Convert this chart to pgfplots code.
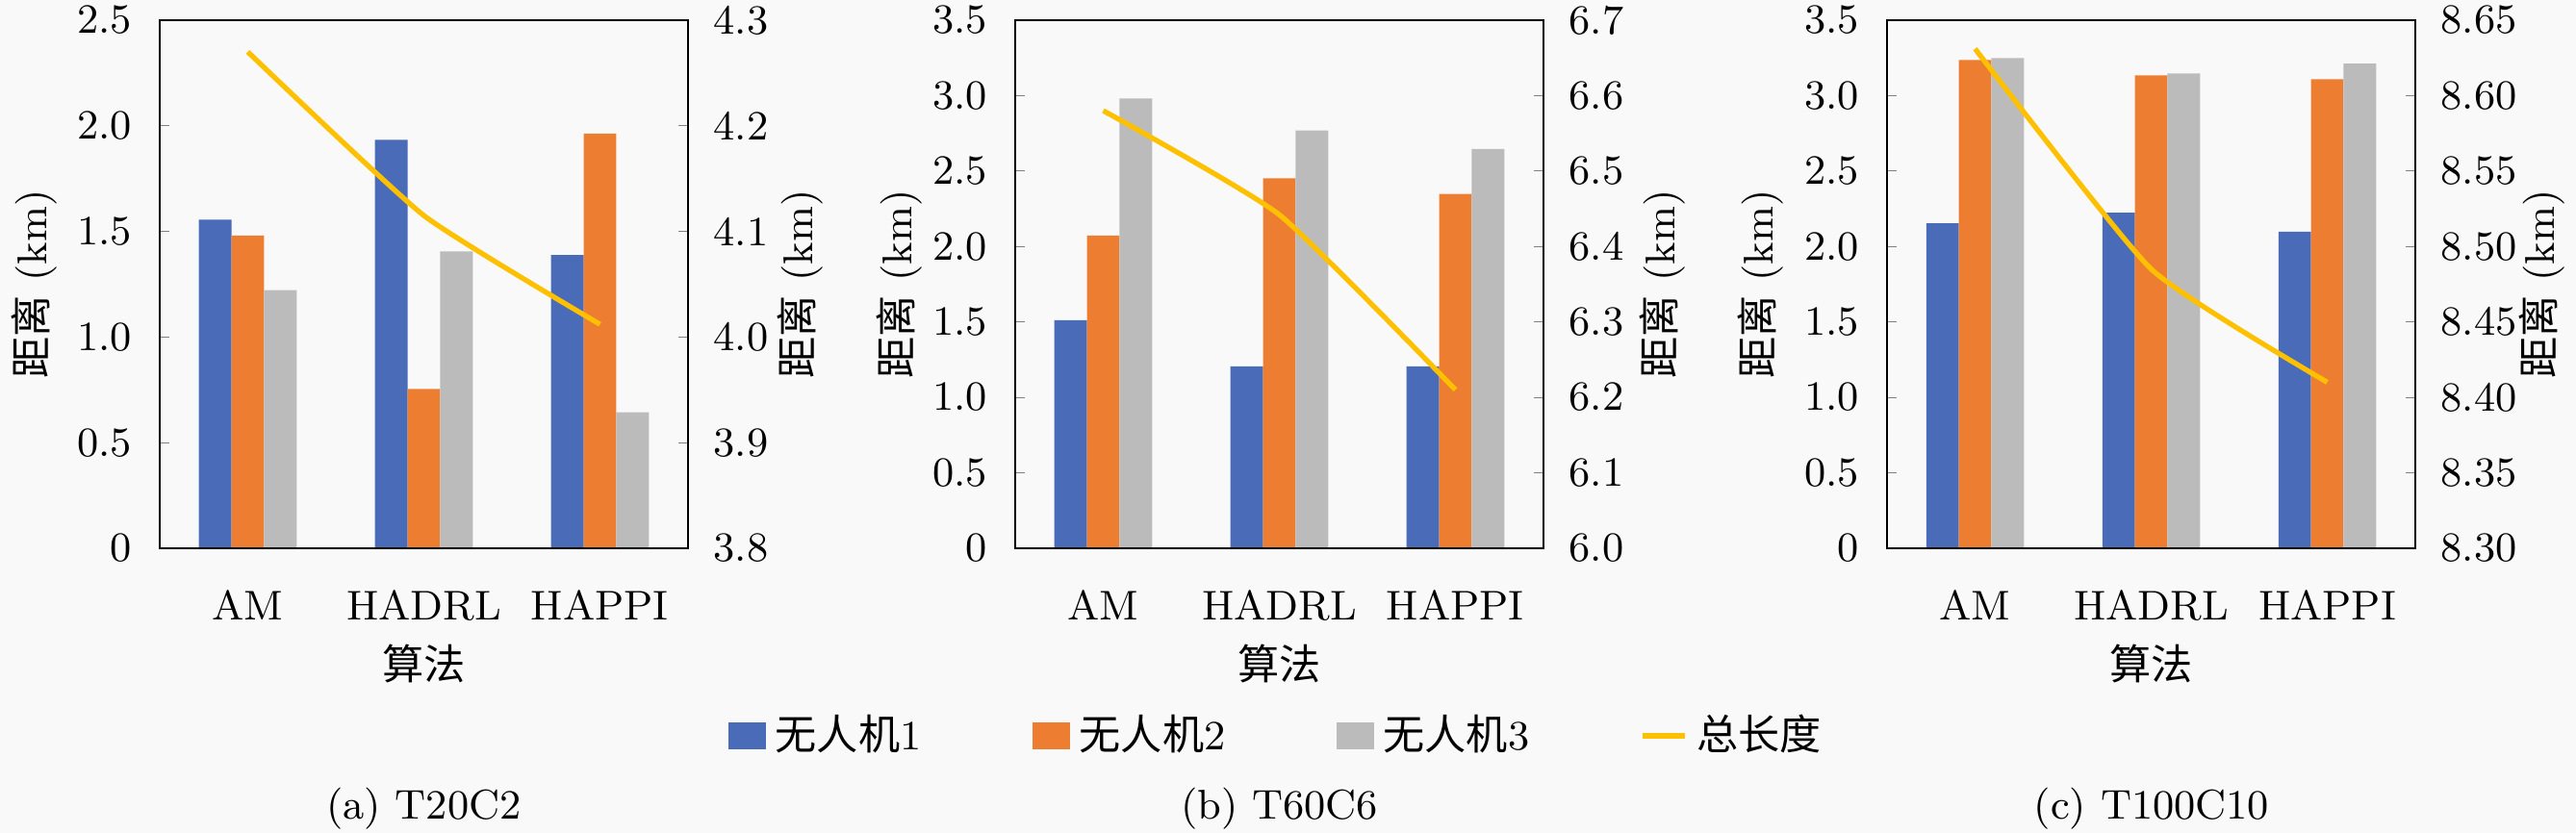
\documentclass[border=0pt]{standalone}
\usepackage{fontspec}
\usepackage{pgfplots}
\pgfplotsset{compat=1.18}
\newfontfamily\cjk{Noto Sans CJK SC}
\definecolor{c1}{RGB}{74,107,184}
\definecolor{c2}{RGB}{237,125,49}
\definecolor{c3}{RGB}{187,187,187}
\definecolor{c4}{RGB}{255,192,0}
\definecolor{bg}{RGB}{249,249,249}
\newcommand\fs{\fontsize{9}{11}\selectfont}
\pgfplotsset{
  common/.style={
    scale only axis, width=114.375pt, height=114.375pt, anchor=south west,
    xmin=-0.5, xmax=2.5,
    major tick length=2pt,
    tick label style={font=\fs},
    label style={font=\fs},
    ylabel={{\cjk 距离} (km)},
  },
  barax/.style={
    common,
    xtick={0,1,2}, xticklabels={AM,HADRL,HAPPI},
    major x tick style={draw=none},
    xticklabel style={anchor=base, yshift=-13.5pt},
    ybar=0pt, bar width=0.185,
    ymin=0, ytick pos=left,
    yticklabel style={xshift=-2.5pt},
    xlabel={\cjk 算法},
    xlabel style={at={(axis description cs:0.5,-0.2186)}, anchor=center},
    legend image code/.code={\fill[##1] (0pt,-3pt) rectangle (8.2pt,2.9pt);},
  },
  lineax/.style={
    common,
    xtick=\empty,
    ytick pos=right, yticklabel pos=right,
    yticklabel style={xshift=2pt},
  },
  linelegend/.style={legend image code/.code={\draw[##1] (0pt,0pt) -- (9pt,0pt);}},
}
\begin{document}
\begin{tikzpicture}
\path[use as bounding box, fill=bg] (0,0) rectangle (557.7pt,180.4pt);

% ---------- Panel (a) ----------
\begin{axis}[barax, at={(34.58pt,61.67pt)},
  ymax=2.5, ytick={0,0.5,1,1.5,2,2.5}, yticklabels={0,0.5,1.0,1.5,2.0,2.5},
  ylabel style={at={(axis description cs:-0.237,0.5)}, anchor=center}]
\addplot[fill=c1, draw=none] coordinates {(0,1.555) (1,1.933) (2,1.388)};
\addplot[fill=c2, draw=none] coordinates {(0,1.480) (1,0.754) (2,1.963)};
\addplot[fill=c3, draw=none] coordinates {(0,1.222) (1,1.405) (2,0.644)};
\end{axis}
\begin{axis}[lineax, at={(34.58pt,61.67pt)},
  ymin=3.8, ymax=4.3, ytick={3.8,3.9,4.0,4.1,4.2,4.3}, yticklabels={3.8,3.9,4.0,4.1,4.2,4.3},
  ylabel style={at={(axis description cs:1.213,0.5)}, anchor=center}]
\addplot[c4, line width=1.1pt, smooth, tension=0.3] coordinates {(0,4.270) (1,4.115) (2,4.012)};
\end{axis}

% ---------- Panel (b) ----------
\begin{axis}[barax, at={(219.79pt,61.67pt)},
  ymax=3.5, ytick={0,0.5,1,1.5,2,2.5,3,3.5}, yticklabels={0,0.5,1.0,1.5,2.0,2.5,3.0,3.5},
  ylabel style={at={(axis description cs:-0.22,0.5)}, anchor=center},
  legend style={at={(0.5,-0.355)}, anchor=center, draw=none, fill=none,
    legend columns=4, font=\fs,
    /tikz/every even column/.append style={column sep=22pt}},
  legend cell align=left]
\addplot[fill=c1, draw=none] coordinates {(0,1.511) (1,1.206) (2,1.206)};
\addlegendentry{{\cjk 无人机}1}
\addplot[fill=c2, draw=none] coordinates {(0,2.073) (1,2.451) (2,2.348)};
\addlegendentry{{\cjk 无人机}2}
\addplot[fill=c3, draw=none] coordinates {(0,2.980) (1,2.768) (2,2.646)};
\addlegendentry{{\cjk 无人机}3}
\addlegendimage{c4, line width=1.2pt, linelegend}
\addlegendentry{\cjk 总长度}
\end{axis}
\begin{axis}[lineax, at={(219.79pt,61.67pt)},
  ymin=6.0, ymax=6.7, ytick={6.0,6.1,6.2,6.3,6.4,6.5,6.6,6.7}, yticklabels={6.0,6.1,6.2,6.3,6.4,6.5,6.6,6.7},
  ylabel style={at={(axis description cs:1.226,0.5)}, anchor=center}]
\addplot[c4, line width=1.1pt, smooth, tension=0.3] coordinates {(0,6.580) (1,6.442) (2,6.210)};
\end{axis}

% ---------- Panel (c) ----------
\begin{axis}[barax, at={(408.54pt,61.67pt)},
  ymax=3.5, ytick={0,0.5,1,1.5,2,2.5,3,3.5}, yticklabels={0,0.5,1.0,1.5,2.0,2.5,3.0,3.5},
  ylabel style={at={(axis description cs:-0.239,0.5)}, anchor=center}]
\addplot[fill=c1, draw=none] coordinates {(0,2.153) (1,2.224) (2,2.097)};
\addplot[fill=c2, draw=none] coordinates {(0,3.236) (1,3.134) (2,3.109)};
\addplot[fill=c3, draw=none] coordinates {(0,3.248) (1,3.146) (2,3.212)};
\end{axis}
\begin{axis}[lineax, at={(408.54pt,61.67pt)},
  ymin=8.30, ymax=8.65, ytick={8.30,8.35,8.40,8.45,8.50,8.55,8.60,8.65},
  yticklabels={8.30,8.35,8.40,8.45,8.50,8.55,8.60,8.65},
  ylabel style={at={(axis description cs:1.239,0.5)}, anchor=center}]
\addplot[c4, line width=1.1pt, smooth, tension=0.3] coordinates {(0,8.631) (1,8.485) (2,8.410)};
\end{axis}

% ---------- sub-captions ----------
\node[font=\fs, anchor=base] at (91.77pt,2.92pt) {(a) T20C2};
\node[font=\fs, anchor=base] at (276.98pt,2.92pt) {(b) T60C6};
\node[font=\fs, anchor=base] at (465.83pt,2.92pt) {(c) T100C10};
\end{tikzpicture}
\end{document}
